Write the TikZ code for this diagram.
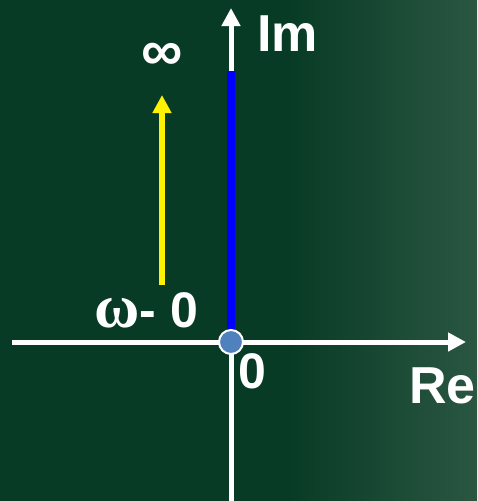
\documentclass[tikz,border=0pt]{standalone}
\usepackage{fontspec}
\setmainfont{Liberation Sans}
\newfontfamily\serifb{Liberation Serif}
\usetikzlibrary{arrows.meta}
\definecolor{bgdark}{HTML}{083B25}
\definecolor{bglight}{HTML}{2A5642}
\definecolor{dotblue}{HTML}{4F81BD}
\tikzset{
  axis/.style={white, line width=5pt, -{Triangle[length=18pt,width=18pt]}},
  lbl/.style={text=white, font=\bfseries, inner sep=0pt},
}
\begin{document}
\begin{tikzpicture}[x=1pt,y=-1pt]
\useasboundingbox (0,0) rectangle (477,501);
\fill[bgdark] (0,0) rectangle (290,501);
\shade[left color=bgdark, right color=bglight] (289,0) rectangle (477,501);
% coordinates
\coordinate (xl) at (12,342);
\coordinate (xr) at (466,342);
\coordinate (yb) at (231,501);
\coordinate (yt) at (231,8);
\coordinate (bt) at (231,71);
\coordinate (ya) at (162,285);
\coordinate (yz) at (162,95);
% axes
\draw[axis] (xl) -- (xr);
\draw[axis] (yb) -- (yt);
% blue segment
\draw[blue, line width=8pt] (bt) -- (231,342);
% yellow arrow
\draw[yellow, line width=6pt, -{Triangle[length=18pt,width=18pt]}] (ya) -- (yz);
% origin dot
\node (o) [circle, fill=dotblue, draw=white, line width=2pt, minimum size=24pt, inner sep=0pt] at (231,342) {};
% labels
\node (im) [lbl, font=\bfseries\fontsize{52}{52}\selectfont, anchor=base west] at (257,51) {Im};
\node (re) [lbl, font=\bfseries\fontsize{52}{52}\selectfont, anchor=base west] at (409,403) {Re};
\node (zero) [lbl, font=\bfseries\fontsize{50}{50}\selectfont, anchor=base west] at (238,388) {0};
\node (inf) [lbl, font=\bfseries\fontsize{58}{58}\selectfont] at (162,57) {∞};
\node (om) [lbl, anchor=base west] at (94,327) {{\serifb\bfseries\fontsize{62}{62}\selectfont ω}{\fontsize{50}{50}\selectfont- 0}};
\end{tikzpicture}
\end{document}
